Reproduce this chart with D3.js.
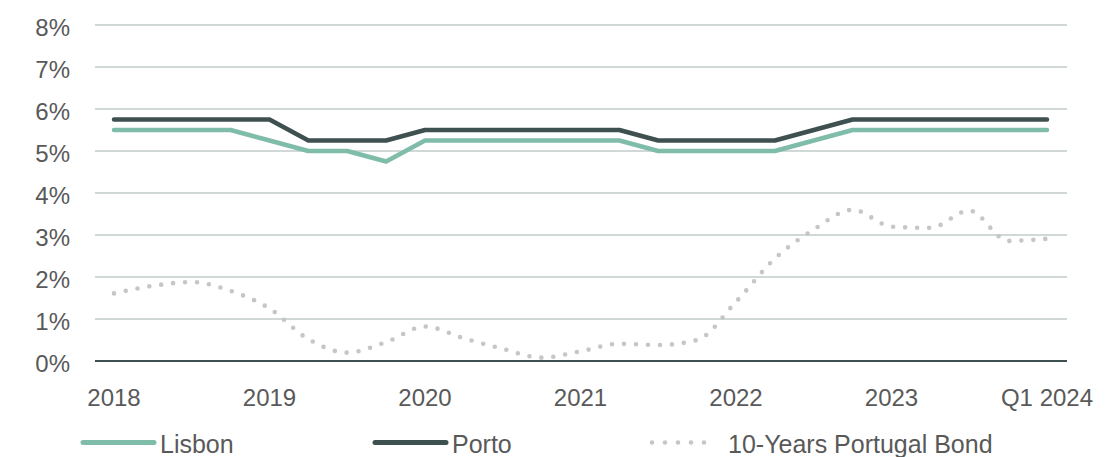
<!DOCTYPE html>
<html>
<head>
<meta charset="utf-8">
<script src="https://cdn.jsdelivr.net/npm/d3@7"></script>
<style>
  html, body { margin: 0; padding: 0; background: #fff; }
  svg { display: block; font-family: "Liberation Sans", Arial, sans-serif; }
</style>
</head>
<body>
<svg id="chart" width="1120" height="457"></svg>
<script>
// ---- data ----
const quarters = [
  "2018Q1","2018Q2","2018Q3","2018Q4",
  "2019Q1","2019Q2","2019Q3","2019Q4",
  "2020Q1","2020Q2","2020Q3","2020Q4",
  "2021Q1","2021Q2","2021Q3","2021Q4",
  "2022Q1","2022Q2","2022Q3","2022Q4",
  "2023Q1","2023Q2","2023Q3","2023Q4",
  "2024Q1"
];
const lisbon = [5.5,5.5,5.5,5.5, 5.25,5.0,5.0,4.75, 5.25,5.25,5.25,5.25, 5.25,5.25,5.0,5.0, 5.0,5.0,5.25,5.5, 5.5,5.5,5.5,5.5, 5.5];
const porto  = [5.75,5.75,5.75,5.75, 5.75,5.25,5.25,5.25, 5.5,5.5,5.5,5.5, 5.5,5.5,5.25,5.25, 5.25,5.25,5.5,5.75, 5.75,5.75,5.75,5.75, 5.75];
const bond   = [1.61,1.79,1.88,1.67, 1.25,0.52,0.2,0.45, 0.82,0.54,0.29,0.08, 0.23,0.41,0.38,0.5, 1.41,2.44,3.13,3.6, 3.2,3.17,3.58,2.86, 2.91];
const xTickQuarters = ["2018Q1","2019Q1","2020Q1","2021Q1","2022Q1","2023Q1","2024Q1"];
const xTickLabels   = ["2018","2019","2020","2021","2022","2023","Q1 2024"];
const yTicks = [0,1,2,3,4,5,6,7,8];
const seriesNames = ["Lisbon","Porto","10-Years Portugal Bond"];

// ---- styles ----
const C_LIS = "#80bcaa", C_POR = "#3f5050", C_BOND = "#c6c6c6", C_GRID = "#d0d8d8", C_TXT = "#595959";

const svg = d3.select("#chart");
const x = d3.scalePoint().domain(quarters).range([114, 1047]);
const y = d3.scaleLinear().domain([0, 8]).range([361, 25]);
const gridX0 = 95, gridX1 = 1067;

// gridlines
svg.append("g").selectAll("line").data(yTicks.filter(d => d > 0)).join("line")
  .attr("x1", gridX0).attr("x2", gridX1)
  .attr("y1", d => y(d)).attr("y2", d => y(d))
  .attr("stroke", C_GRID).attr("stroke-width", 2);

// y labels
svg.append("g").selectAll("text").data(yTicks).join("text")
  .attr("x", 70).attr("y", d => y(d) + 11)
  .attr("text-anchor", "end").attr("font-size", 24).attr("fill", C_TXT)
  .text(d => d + "%");

// x labels
svg.append("g").selectAll("text").data(xTickQuarters).join("text")
  .attr("x", d => x(d)).attr("y", 406)
  .attr("text-anchor", "middle").attr("font-size", 24).attr("fill", C_TXT)
  .text((d, i) => xTickLabels[i]);

// bond line
const lineSmooth = d3.line().x((d, i) => x(quarters[i])).y(d => y(d)).curve(d3.curveMonotoneX);
svg.append("path").datum(bond).attr("d", lineSmooth)
  .attr("fill", "none").attr("stroke", C_BOND).attr("stroke-width", 4.6)
  .attr("stroke-linecap", "round").attr("stroke-dasharray", "0 12");

// baseline axis
svg.append("line").attr("x1", gridX0).attr("x2", gridX1)
  .attr("y1", y(0)).attr("y2", y(0)).attr("stroke", C_POR).attr("stroke-width", 2);

const lineStraight = d3.line().x((d, i) => x(quarters[i])).y(d => y(d));
svg.append("path").datum(lisbon).attr("d", lineStraight)
  .attr("fill", "none").attr("stroke", C_LIS).attr("stroke-width", 4.5)
  .attr("stroke-linecap", "round").attr("stroke-linejoin", "round");
svg.append("path").datum(porto).attr("d", lineStraight)
  .attr("fill", "none").attr("stroke", C_POR).attr("stroke-width", 4.5)
  .attr("stroke-linecap", "round").attr("stroke-linejoin", "round");

// legend
const legend = [
  {name: seriesNames[0], color: C_LIS, x0: 83, x1: 154, tx: 160, dash: null},
  {name: seriesNames[1], color: C_POR, x0: 375, x1: 446, tx: 452, dash: null},
  {name: seriesNames[2], color: C_BOND, x0: 652, x1: 717, tx: 728, dash: "0 13"}
];
const lg = svg.append("g");
legend.forEach(l => {
  lg.append("line").attr("x1", l.x0).attr("x2", l.x1).attr("y1", 442.5).attr("y2", 442.5)
    .attr("stroke", l.color).attr("stroke-width", l.dash ? 4.6 : 5)
    .attr("stroke-linecap", "round")
    .attr("stroke-dasharray", l.dash);
  lg.append("text").attr("x", l.tx).attr("y", 453).attr("font-size", 25).attr("fill", C_TXT).text(l.name);
});
</script>
</body>
</html>
